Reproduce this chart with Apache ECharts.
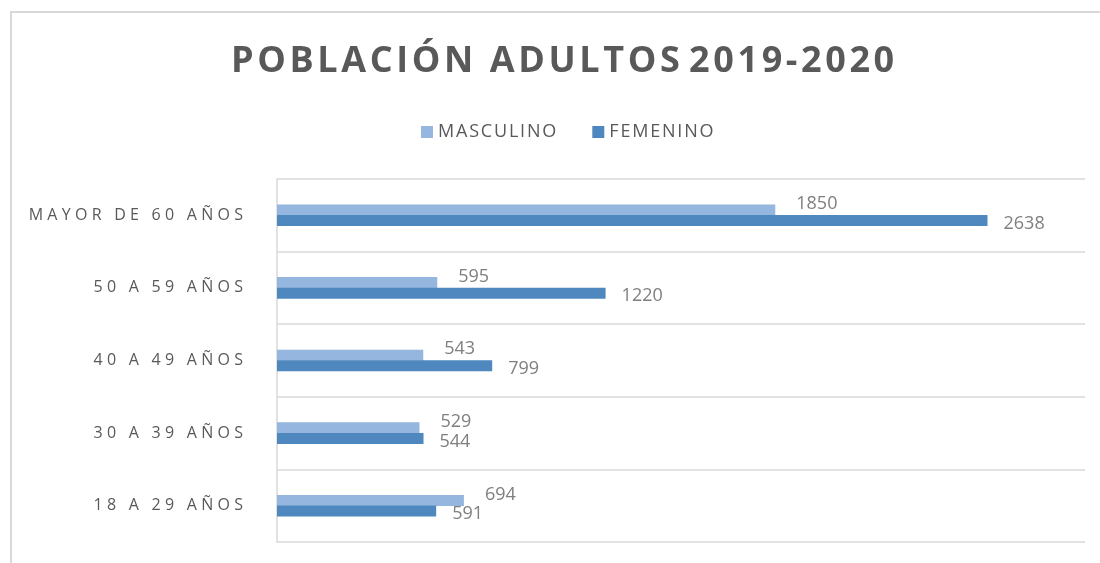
<!DOCTYPE html>
<html>
<head>
<meta charset="utf-8">
<title>Población adultos 2019-2020</title>
<script src="https://cdn.jsdelivr.net/npm/echarts@6/dist/echarts.min.js"></script>
<style>
  html, body { margin: 0; padding: 0; background: #fff; }
  #myChart { width: 1100px; height: 563px; }
</style>
</head>
<body>
<div id="myChart"></div>
<script>
// Chart data
var categories = ['18 A 29 AÑOS', '30 A 39 AÑOS', '40 A 49 AÑOS', '50 A 59 AÑOS', 'MAYOR DE 60 AÑOS'];
var masculino = [694, 529, 543, 595, 1850];
var femenino = [591, 544, 799, 1220, 2638];

// Spread letters out like the original text (sep goes between letters of a word)
function spaced(text, sep) {
  return text.split(' ').map(function (w) { return w.split('').join(sep); }).join(sep + ' ' + sep);
}

var myChart = echarts.init(document.getElementById('myChart'));

var option = {
  backgroundColor: '#ffffff',
  title: {
    text: spaced('POBLACIÓN ADULTOS', '\u200A') + ' ' + spaced('2019-2020', '\u200A'),
    left: 226,
    top: 39,
    textStyle: {
      fontFamily: 'Open Sans',
      fontSize: 36,
      fontWeight: 'bold',
      color: '#595959'
    }
  },
  legend: {
    top: 118,
    left: 416,
    icon: 'rect',
    itemWidth: 12,
    itemHeight: 12,
    itemGap: 36,
    textStyle: {
      fontFamily: 'Open Sans',
      fontSize: 18,
      color: '#595959'
    },
    formatter: function (name) { return name.split('').join('\u200A'); },
    data: ['MASCULINO', 'FEMENINO']
  },
  grid: {
    left: 277,
    right: 15,
    top: 179,
    bottom: 21,
    containLabel: false
  },
  xAxis: {
    type: 'value',
    min: 0,
    max: 3000,
    show: false,
    splitLine: { show: false }
  },
  yAxis: {
    type: 'category',
    data: categories,
    axisLine: { show: true, lineStyle: { color: '#d9d9d9', width: 1.5 } },
    axisTick: { show: false },
    splitLine: { show: true, lineStyle: { color: '#d9d9d9', width: 1.5 } },
    axisLabel: {
      margin: 34,
      fontFamily: 'Open Sans',
      fontSize: 16,
      color: '#595959',
      formatter: function (v) { return spaced(v, '\u2009\u200A'); }
    }
  },
  series: [{
    name: 'MASCULINO',
    type: 'bar',
    data: masculino,
    barWidth: 11,
    barGap: '-4%',
    itemStyle: { color: '#95b6de' },
    label: {
      show: true,
      position: 'right',
      distance: 21,
      offset: [0, -6],
      fontFamily: 'Open Sans',
      fontSize: 18,
      color: '#7f7f7f'
    }
  }, {
    name: 'FEMENINO',
    type: 'bar',
    data: femenino,
    barWidth: 11,
    itemStyle: { color: '#4f88be' },
    label: {
      show: true,
      position: 'right',
      distance: 16,
      offset: [0, 3],
      fontFamily: 'Open Sans',
      fontSize: 18,
      color: '#7f7f7f'
    }
  }],
  graphic: [{
    type: 'polyline',
    shape: { points: [[11, 563], [11, 12], [1100, 12]] },
    style: { stroke: '#d9d9d9', lineWidth: 2, fill: null },
    silent: true
  }]
};

myChart.setOption(option);
</script>
</body>
</html>
